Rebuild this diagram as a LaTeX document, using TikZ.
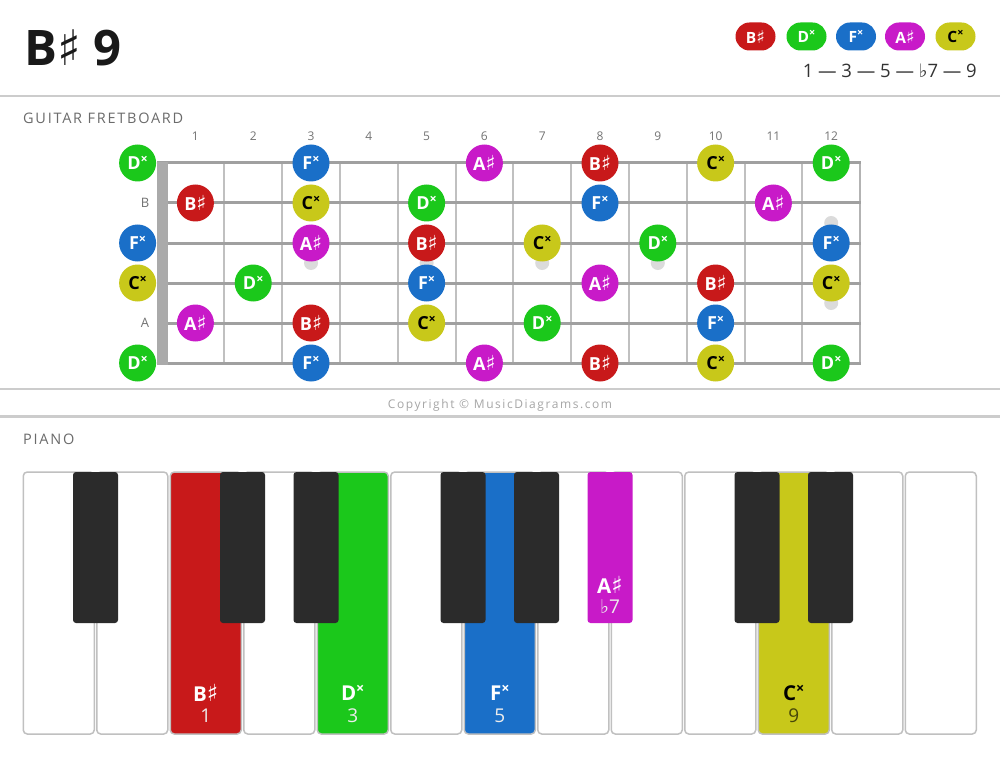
\documentclass[tikz,border=0pt]{standalone}
\usepackage{fontspec}
\setmainfont{Open Sans}
\newfontfamily\symf{DejaVu Sans}
\usepackage{graphicx}
\usepackage{tikz}
\usetikzlibrary{positioning}

\definecolor{noteRed}{HTML}{C8191A}
\definecolor{noteGreen}{HTML}{1BC81B}
\definecolor{noteBlue}{HTML}{1A6FC8}
\definecolor{noteMag}{HTML}{C81AC8}
\definecolor{noteYel}{HTML}{C8C81A}
\definecolor{rulegray}{HTML}{CCCCCC}
\definecolor{strgray}{HTML}{A0A0A0}
\definecolor{fretgray}{HTML}{C0C0C0}
\definecolor{keyblack}{HTML}{2B2B2B}

\newcommand\shp{{\symf\scalebox{1.15}{♯}}}
\newcommand\flt{{\symf ♭}}
\newcommand\dbl{\raisebox{.36em}{\scalebox{.7}{×}}}
\newcommand\nmB{B\shp}
\newcommand\nmD{D\dbl}
\newcommand\nmF{F\dbl}
\newcommand\nmA{A\shp}
\newcommand\nmC{C\dbl}

\begin{document}
\begin{tikzpicture}[
x=1pt,y=-1pt,
note/.style={circle,inner sep=0pt,minimum size=37pt,text=white,font=\bfseries\fontsize{18}{18}\selectfont},
noteB/.style={note,fill=noteRed},
noteD/.style={note,fill=noteGreen},
noteF/.style={note,fill=noteBlue},
noteA/.style={note,fill=noteMag},
noteC/.style={note,fill=noteYel,text=black},
pill/.style={rounded corners=14pt,minimum height=28pt,minimum width=40pt,inner xsep=9pt,text=white,font=\bfseries\fontsize{15.5}{15.5}\selectfont},
section/.style={anchor=west,inner sep=0pt,text=black!58,font=\fontsize{14.5}{14.5}\selectfont\addfontfeature{LetterSpace=12}},
fretnum/.style={text=black!55,font=\fontsize{12}{12}\selectfont},
whitekey/.style={draw=fretgray,line width=1.5pt,rounded corners=4pt,minimum width=71pt,minimum height=262pt,inner sep=0pt},
blackkey/.style={rounded corners=3pt,minimum width=45pt,minimum height=151pt,inner sep=0pt},
keyname/.style={font=\bfseries\fontsize{20.5}{20.5}\selectfont,text=white},
keydeg/.style={font=\fontsize{19}{19}\selectfont,text=white!85!gray}
]
    \useasboundingbox (0,0) rectangle (1000,759);
    \fill[white] (0,0) rectangle (1000,759);

    % Title and legend
    \node[anchor=base west,inner sep=0pt,text=black!90,font=\bfseries\fontsize{49}{49}\selectfont] (title) at (24,66) {B{\symf ♯} 9};
    \node[pill,fill=noteRed] (legB) at (755.5,36.5) {\nmB};
    \node[pill,fill=noteGreen] (legD) at (806.5,36.5) {\nmD};
    \node[pill,fill=noteBlue] (legF) at (856,36.5) {\nmF};
    \node[pill,fill=noteMag] (legA) at (905,36.5) {\nmA};
    \node[pill,fill=noteYel,text=black] (legC) at (955.5,36.5) {\nmC};
    \node[anchor=east,inner sep=0pt,text=black!80,font=\fontsize{18.5}{18.5}\selectfont] (formula) at (977,71) {1 — 3 — 5 — \flt7 — 9};

    % Rules between the parts
    \draw[rulegray,line width=2.5pt] (0,96) -- (1000,96);
    \draw[rulegray,line width=2pt] (0,389) -- (1000,389);
    \draw[rulegray,line width=2.5pt] (0,416.5) -- (1000,416.5);

    \node[section] (guitar) at (23,118) {GUITAR FRETBOARD};
    \node[section] (piano) at (23,439) {PIANO};
    \node[text=black!35,font=\fontsize{12}{12}\selectfont\addfontfeature{LetterSpace=13}] (copy) at (500,405) {Copyright © MusicDiagrams.com};

    % Fretboard
    \foreach \f in {3,5,7,9}
        \fill[black!14] ({137.6+57.8*\f},263) circle (7);
    \fill[black!14] (831.2,223) circle (7) (831.2,303) circle (7);
    \foreach \f in {1,...,11}
        \draw[fretgray,line width=2pt] ({166.5+57.8*\f},163) -- ({166.5+57.8*\f},363);
    \draw[strgray!80,line width=2pt] (860,163) -- (860,364);
    \foreach \r in {0,...,5}
        \draw[strgray,line width=3pt] (157,{163+40*\r}) -- (861,{163+40*\r});
    \fill[strgray!90] (157,162) rectangle (168,365);
    \foreach \f in {1,...,12}
        \node[fretnum] (fn\f) at ({137.6+57.8*\f},136) {\f};
    \node[fretnum,font=\fontsize{13}{13}\selectfont] (openB) at (145,203) {B};
    \node[fretnum,font=\fontsize{13}{13}\selectfont] (openA) at (145,323) {A};

    \foreach \r/\f/\n in {1/0/D,1/3/F,1/6/A,1/8/B,1/10/C,1/12/D,
                          2/1/B,2/3/C,2/5/D,2/8/F,2/11/A,
                          3/0/F,3/3/A,3/5/B,3/7/C,3/9/D,3/12/F,
                          4/0/C,4/2/D,4/5/F,4/8/A,4/10/B,4/12/C,
                          5/1/A,5/3/B,5/5/C,5/7/D,5/10/F,
                          6/0/D,6/3/F,6/6/A,6/8/B,6/10/C,6/12/D}
        \node[note\n] (s\r f\f) at ({137.6+57.8*\f},{123+40*\r}) {\csname nm\n\endcsname};

    % Piano keys
    \foreach \i/\c in {0/white,1/white,2/noteRed,3/white,4/noteGreen,5/white,6/noteBlue,
                       7/white,8/white,9/white,10/noteYel,11/white,12/white}
        \node[whitekey,fill=\c] (w\i) at ({22+73.5*\i+36.75},603) {};
    \foreach \i/\c in {0/keyblack,2/keyblack,3/keyblack,5/keyblack,6/keyblack,7/noteMag,9/keyblack,10/keyblack}
        \node[blackkey,fill=\c] (b\i) at ({22+73.5*(\i+1)},547.5) {};

    \node[keyname] (kB) at ([yshift=42pt]w2.south) {\nmB};
    \node[keydeg] (dB) at ([yshift=19pt]w2.south) {1};
    \node[keyname] (kD) at ([yshift=42pt]w4.south) {\nmD};
    \node[keydeg] (dD) at ([yshift=19pt]w4.south) {3};
    \node[keyname] (kF) at ([yshift=42pt]w6.south) {\nmF};
    \node[keydeg] (dF) at ([yshift=19pt]w6.south) {5};
    \node[keyname] (kA) at ([yshift=38pt]b7.south) {\nmA};
    \node[keydeg] (dA) at ([yshift=17pt]b7.south) {\flt7};
    \node[keyname,text=black] (kC) at ([yshift=42pt]w10.south) {\nmC};
    \node[keydeg,text=black!65!noteYel] (dC) at ([yshift=19pt]w10.south) {9};
\end{tikzpicture}
\end{document}
